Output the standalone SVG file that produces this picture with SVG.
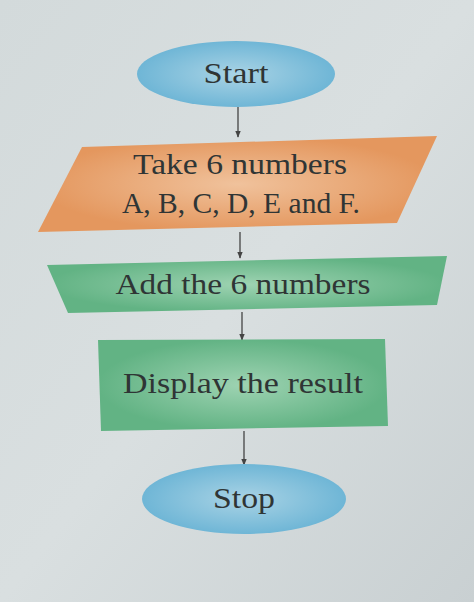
<svg xmlns="http://www.w3.org/2000/svg" width="474" height="602" viewBox="0 0 474 602">
<defs>
<linearGradient id="bg" x1="0" y1="0" x2="1" y2="1">
<stop offset="0" stop-color="#d3dadb"/><stop offset="0.5" stop-color="#d9dfe0"/><stop offset="1" stop-color="#c9d0d2"/>
</linearGradient>
<radialGradient id="blue" cx="0.5" cy="0.5" r="0.5">
<stop offset="0" stop-color="#a9d3e5"/><stop offset="1" stop-color="#6fb6d6"/>
</radialGradient>
<radialGradient id="orange" cx="0.5" cy="0.5" r="0.5">
<stop offset="0" stop-color="#f0c29c"/><stop offset="1" stop-color="#e4975e"/>
</radialGradient>
<radialGradient id="green" cx="0.5" cy="0.5" r="0.5">
<stop offset="0" stop-color="#9ed3b2"/><stop offset="1" stop-color="#62b384"/>
</radialGradient>
<marker id="ah" viewBox="0 0 10 10" refX="9" refY="5" markerWidth="7" markerHeight="7" orient="auto" markerUnits="userSpaceOnUse">
<path d="M0,1 L10,5 L0,9 z" fill="#444"/>
</marker>
<style>
.t{font-family:"Liberation Serif","Times New Roman",serif;font-size:29px;fill:#2f3535;text-anchor:middle}
.c{stroke:#444;stroke-width:1.3;fill:none;marker-end:url(#ah)}
</style>
</defs>
<rect width="474" height="602" fill="url(#bg)"/>
<g id="connectors">
<line class="c" x1="238" y1="107" x2="238" y2="137"/>
<line class="c" x1="240" y1="232" x2="240" y2="258"/>
<line class="c" x1="242" y1="312" x2="242" y2="340"/>
<line class="c" x1="244" y1="431" x2="244" y2="465"/>
</g>
<g id="start">
<ellipse cx="236" cy="74" rx="99" ry="33" fill="url(#blue)"/>
<text class="t" x="236" y="83" textLength="65" lengthAdjust="spacingAndGlyphs">Start</text>
</g>
<g id="input">
<polygon points="82,147 437,136 397,223 38,232" fill="url(#orange)"/>
<text class="t" x="240" y="174" textLength="214" lengthAdjust="spacingAndGlyphs">Take 6 numbers</text>
<text class="t" x="241" y="213" textLength="238" lengthAdjust="spacingAndGlyphs">A, B, C, D, E and F.</text>
</g>
<g id="add">
<polygon points="47,265 447,256 437,305 68,313" fill="url(#green)"/>
<text class="t" x="243" y="294" textLength="255" lengthAdjust="spacingAndGlyphs">Add the 6 numbers</text>
</g>
<g id="display">
<polygon points="98,340 385,339 388,426 101,431" fill="url(#green)"/>
<text class="t" x="243" y="393" textLength="240" lengthAdjust="spacingAndGlyphs">Display the result</text>
</g>
<g id="stop">
<ellipse cx="244" cy="499" rx="102" ry="35" fill="url(#blue)"/>
<text class="t" x="244" y="508" textLength="62" lengthAdjust="spacingAndGlyphs">Stop</text>
</g>
</svg>
